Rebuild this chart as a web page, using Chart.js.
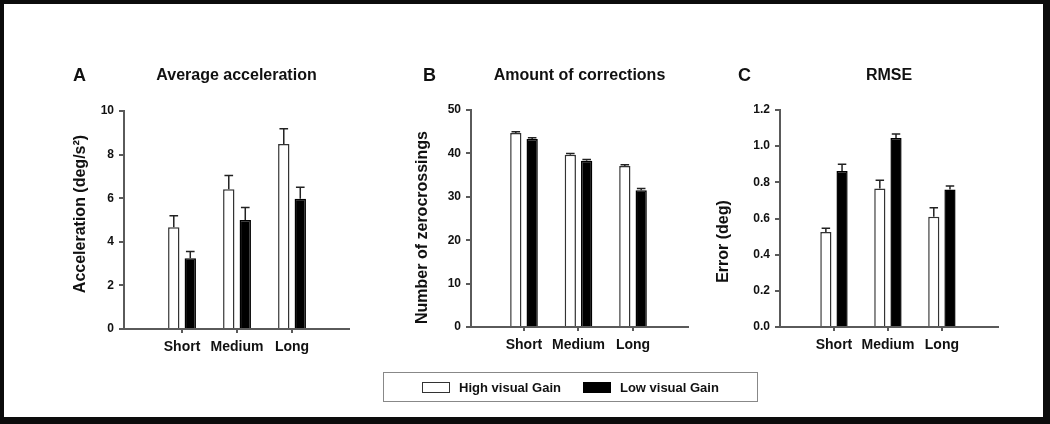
<!DOCTYPE html>
<html>
<head>
<meta charset="utf-8">
<script src="https://cdn.jsdelivr.net/npm/chart.js@4.4.1/dist/chart.umd.min.js"></script>
<style>
  html, body { margin: 0; padding: 0; background: #000; }
  #frame { position: absolute; left: 0; top: 0; width: 1050px; height: 424px; background: #0c0c0c; overflow: hidden; }
  #inner { position: absolute; left: 4px; top: 4px; width: 1039px; height: 413px; background: #fff; }
  canvas { position: absolute; left: 0; top: 0; }
  .letter { position: absolute; font: bold 18px 'Liberation Sans', Arial, sans-serif; line-height: 18px; color: #111; }
  #legend {
    position: absolute; left: 383px; top: 372px; width: 375px; height: 30px; box-sizing: border-box;
    border: 1.5px solid #888; display: flex; align-items: center; justify-content: center;
    font: bold 13px 'Liberation Sans', Arial, sans-serif; color: #111;
  }
  .item { display: flex; align-items: center; margin: 0 11px; }
  .swatch { width: 28px; height: 11px; box-sizing: border-box; border: 1.5px solid #333; margin-right: 9px; }
</style>
</head>
<body>
<div id="frame">
  <div id="inner"></div>
  <canvas id="chartA" width="1050" height="424"></canvas>
  <canvas id="chartB" width="1050" height="424"></canvas>
  <canvas id="chartC" width="1050" height="424"></canvas>
  <div class="letter" style="left:73px; top:66px;">A</div>
  <div class="letter" style="left:423px; top:66px;">B</div>
  <div class="letter" style="left:738px; top:66px;">C</div>
  <div id="legend"></div>
</div>
<script>
// === DATA ===
const categories = ['Short', 'Medium', 'Long'];
const seriesNames = ['High visual Gain', 'Low visual Gain'];

const accelHigh = [4.67, 6.41, 8.49];
const accelHighErr = [0.53, 0.63, 0.70];
const accelLow = [3.25, 5.00, 5.98];
const accelLowErr = [0.31, 0.57, 0.52];
const accelTicks = [0, 2, 4, 6, 8, 10];

const corrHigh = [44.7, 39.7, 37.1];
const corrHighErr = [0.3, 0.3, 0.3];
const corrLow = [43.3, 38.3, 31.5];
const corrLowErr = [0.3, 0.3, 0.4];
const corrTicks = [0, 10, 20, 30, 40, 50];

const rmseHigh = [0.526, 0.766, 0.609];
const rmseHighErr = [0.020, 0.046, 0.050];
const rmseLow = [0.862, 1.045, 0.760];
const rmseLowErr = [0.038, 0.022, 0.020];
const rmseTicks = [0, 0.2, 0.4, 0.6, 0.8, 1.0, 1.2];

// === STYLE ===
const FONT = "'Liberation Sans', Arial, sans-serif";
const seriesFill = ['#ffffff', '#000000'];
const seriesBorder = ['#333333', '#000000'];
const axisColor = '#5a5a5a';

Chart.defaults.font.family = FONT;
Chart.defaults.color = '#111';

// === PLUGIN: ERROR BARS (upper only) ===
const errorBars = {
  id: 'errorBars',
  afterDatasetsDraw(chart) {
    const { ctx } = chart;
    const y = chart.scales.y;
    ctx.save();
    ctx.strokeStyle = '#222';
    ctx.lineWidth = 1.5;
    chart.data.datasets.forEach((ds, di) => {
      chart.getDatasetMeta(di).data.forEach((bar, i) => {
        const top = y.getPixelForValue(ds.data[i].y + ds.err[i]);
        const cap = bar.width * 0.38;
        ctx.beginPath();
        ctx.moveTo(bar.x, bar.y);
        ctx.lineTo(bar.x, top);
        ctx.moveTo(bar.x - cap, top);
        ctx.lineTo(bar.x + cap, top);
        ctx.stroke();
      });
    });
    ctx.restore();
  }
};

// === PLUGIN: Y AXIS TITLE ===
const sideTitle = {
  id: 'sideTitle',
  afterDraw(chart, args, opts) {
    const { ctx, chartArea } = chart;
    ctx.save();
    ctx.translate(opts.x, (chartArea.top + chartArea.bottom) / 2 + opts.shift);
    ctx.rotate(-Math.PI / 2);
    ctx.font = 'bold 16px ' + FONT;
    ctx.fillStyle = '#111';
    ctx.textAlign = 'center';
    ctx.textBaseline = 'middle';
    ctx.fillText(opts.text, 0, 0);
    ctx.restore();
  }
};

function toPoints(values) {
  return values.map((v, i) => ({ x: i + 1, y: v }));
}

// === PANEL ===
function makePanel(id, p) {
  return new Chart(document.getElementById(id), {
    type: 'bar',
    data: {
      datasets: [
        { label: seriesNames[0], data: toPoints(p.high), err: p.highErr,
          backgroundColor: seriesFill[0], borderColor: seriesBorder[0], borderWidth: 1.5 },
        { label: seriesNames[1], data: toPoints(p.low), err: p.lowErr,
          backgroundColor: seriesFill[1], borderColor: seriesBorder[1], borderWidth: 1.5 }
      ]
    },
    options: {
      responsive: false,
      animation: false,
      devicePixelRatio: 1,
      datasets: { bar: { categoryPercentage: 0.6, barPercentage: 0.69 } },
      layout: { padding: { left: p.left - 40, right: 1050 - p.right, top: 66.4, bottom: 424 - p.bottom - 30 } },
      plugins: {
        legend: { display: false },
        tooltip: { enabled: false },
        title: {
          display: true, text: p.title, fullSize: false, color: '#111',
          font: { size: 16, weight: 'bold' },
          padding: { top: 0, bottom: p.top - 66.4 - 19.2 }
        },
        sideTitle: { text: p.yTitle, x: p.yTitleX, shift: p.yTitleShift }
      },
      scales: {
        x: {
          type: 'linear', min: p.xMin, max: p.xMax, offset: false,
          afterBuildTicks: s => { s.ticks = categories.map((c, i) => ({ value: i + 1 })); },
          afterFit: s => { s.height = 30; },
          ticks: { callback: v => categories[v - 1] || '', font: { size: 14, weight: 'bold' },
                   padding: 6, autoSkip: false, maxRotation: 0, color: '#111' },
          grid: { offset: false, drawOnChartArea: false, tickLength: 4, color: axisColor, lineWidth: 2 },
          border: { color: axisColor, width: 2 }
        },
        y: {
          min: 0, max: p.yTicks[p.yTicks.length - 1],
          afterBuildTicks: s => { s.ticks = p.yTicks.map(v => ({ value: v })); },
          afterFit: s => { s.width = 40; },
          ticks: { callback: v => p.decimals ? v.toFixed(p.decimals) : v, font: { size: 12, weight: 'bold' },
                   padding: 5, color: '#111' },
          grid: { drawOnChartArea: false, tickLength: 5, color: axisColor, lineWidth: 2 },
          border: { color: axisColor, width: 2 }
        }
      }
    },
    plugins: [errorBars, sideTitle]
  });
}

makePanel('chartA', {
  title: 'Average acceleration', yTitle: 'Acceleration (deg/s²)',
  high: accelHigh, highErr: accelHighErr, low: accelLow, lowErr: accelLowErr, yTicks: accelTicks,
  left: 124, right: 349, top: 111, bottom: 329, xMin: -0.055, xMax: 4.036,
  yTitleX: 81, yTitleShift: -6
});

makePanel('chartB', {
  title: 'Amount of corrections', yTitle: 'Number of zerocrossings',
  high: corrHigh, highErr: corrHighErr, low: corrLow, lowErr: corrLowErr, yTicks: corrTicks,
  left: 471, right: 688, top: 110, bottom: 327, xMin: 0.028, xMax: 4.009,
  yTitleX: 423, yTitleShift: 9
});

makePanel('chartC', {
  title: 'RMSE', yTitle: 'Error (deg)',
  high: rmseHigh, highErr: rmseHighErr, low: rmseLow, lowErr: rmseLowErr, yTicks: rmseTicks, decimals: 1,
  left: 780, right: 998, top: 110, bottom: 327, xMin: 0, xMax: 4.04,
  yTitleX: 724, yTitleShift: 23
});

// === LEGEND ===
function buildLegend() {
  const el = document.getElementById('legend');
  seriesNames.forEach((name, i) => {
    const item = document.createElement('span');
    item.className = 'item';
    item.innerHTML = `<span class="swatch" style="background:${seriesFill[i]};border-color:${seriesBorder[i]}"></span>${name}`;
    el.appendChild(item);
  });
}
buildLegend();
</script>
</body>
</html>
